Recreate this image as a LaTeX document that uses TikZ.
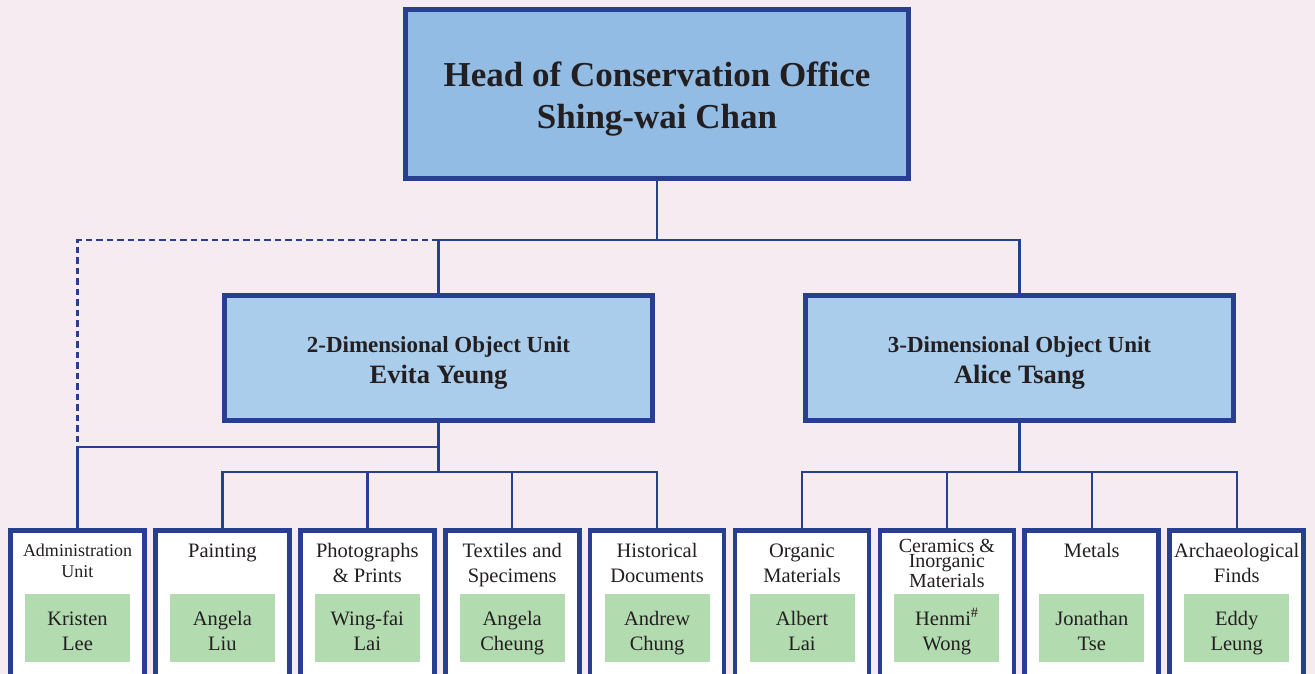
\documentclass[tikz,border=0pt]{standalone}
\usepackage{fontspec}
\setmainfont{Liberation Serif}
\definecolor{bg}{HTML}{F5EBF0}
\definecolor{navy}{HTML}{283F8F}
\definecolor{topfill}{HTML}{93BCE5}
\definecolor{unitfill}{HTML}{ABCDEC}
\definecolor{grn}{HTML}{B3DBB0}
\definecolor{txt}{HTML}{231F20}
\tikzset{
  headbox/.style={draw=navy, line width=5pt, fill=topfill, minimum width=503pt, minimum height=169pt, inner sep=0pt},
  unitbox/.style={draw=navy, line width=5pt, fill=unitfill, minimum width=428pt, minimum height=125pt, inner sep=0pt},
  leafbox/.style={draw=navy, line width=4.7pt, fill=white, minimum width=134pt, minimum height=170pt, inner sep=0pt},
  namebox/.style={fill=grn, minimum width=105pt, minimum height=68pt, inner sep=0pt},
  lbl/.style={text=txt, inner sep=0pt, align=center, anchor=base},
  conn/.style={draw=navy, line width=2.4pt},
  dashconn/.style={draw=navy, line width=2.4pt, dash pattern=on 6.5pt off 4pt},
}
\begin{document}
\begin{tikzpicture}[x=1pt, y=-1pt]
\fill[bg] (0,0) rectangle (1315,674);
\useasboundingbox (0,0) rectangle (1315,674);
\clip (0,0) rectangle (1315,674);

% junction coordinates
\coordinate (bus1) at (657,240);
\coordinate (j1) at (438.5,447);
\coordinate (bus2) at (438.5,472);
\coordinate (bus3) at (1019.5,472);

\node[headbox] (head) at (657,94) {};
\node[unitbox] (u2) at (438.5,358) {};
\node[unitbox] (u3) at (1019.5,358) {};
\foreach \i in {0,...,8} {
  \node[leafbox] (b\i) at (77.5+144.9*\i, 615.5) {};
}

\draw[conn] (head.south) -- (bus1);
\draw[conn] (bus1) -| (u2.north);
\draw[conn] (bus1) -| (u3.north);
\draw[dashconn] (u2.north |- bus1) -| (b0.north |- j1);
\draw[conn] (u2.south) -- (bus2);
\draw[conn] (j1) -| (b0.north);
\foreach \i in {1,...,4} { \draw[conn] (bus2) -| (b\i.north); }
\draw[conn] (u3.south) -- (bus3);
\foreach \i in {5,...,8} { \draw[conn] (bus3) -| (b\i.north); }

% redraw boxes over connectors
\node[headbox] at (head.center) {};
\node[unitbox] at (u2.center) {};
\node[unitbox] at (u3.center) {};

% head text (anchor at last line baseline)
\node[lbl, font=\fontsize{35}{42}\selectfont\bfseries] (headtxt) at (657,129) {Head of Conservation Office\\Shing-wai Chan};
% unit texts
\node[lbl, font=\fontsize{23}{31}\selectfont\bfseries] (u2t) at (438.5,383.5) {2-Dimensional Object Unit\\\fontsize{26.5}{31}\selectfont Evita Yeung};
\node[lbl, font=\fontsize{23}{31}\selectfont\bfseries] (u3t) at (1019.5,383.5) {3-Dimensional Object Unit\\\fontsize{26.5}{31}\selectfont Alice Tsang};

% leaves
\foreach \i/\ti/\nm/\fs/\ld/\ty in {
  0/{Administration\\Unit}/{Kristen\\Lee}/18/21/577,
  1/{Painting}/{Angela\\Liu}/20.5/25/557,
  2/{Photographs\\\& Prints}/{Wing-fai\\Lai}/20.5/25/582,
  3/{Textiles and\\Specimens}/{Angela\\Cheung}/20.5/25/582,
  4/{Historical\\Documents}/{Andrew\\Chung}/20.5/25/582,
  5/{Organic\\Materials}/{Albert\\Lai}/20.5/25/582,
  6/{Ceramics \&\\Inorganic\\Materials}/{Henmi\textsuperscript{\#}\\Wong}/20/15/587,
  7/{Metals}/{Jonathan\\Tse}/20.5/25/557,
  8/{Archaeological\\Finds}/{Eddy\\Leung}/20.5/25/582} {
  \node[lbl, font=\fontsize{\fs}{\ld}\selectfont] (t\i) at (77.5+144.9*\i, \ty) {\ti};
  \node[namebox] (g\i) at (77.5+144.9*\i, 628) {};
  \node[lbl, font=\fontsize{20.5}{25}\selectfont] (n\i) at (77.5+144.9*\i, 650.5) {\nm};
}
\end{tikzpicture}
\end{document}
